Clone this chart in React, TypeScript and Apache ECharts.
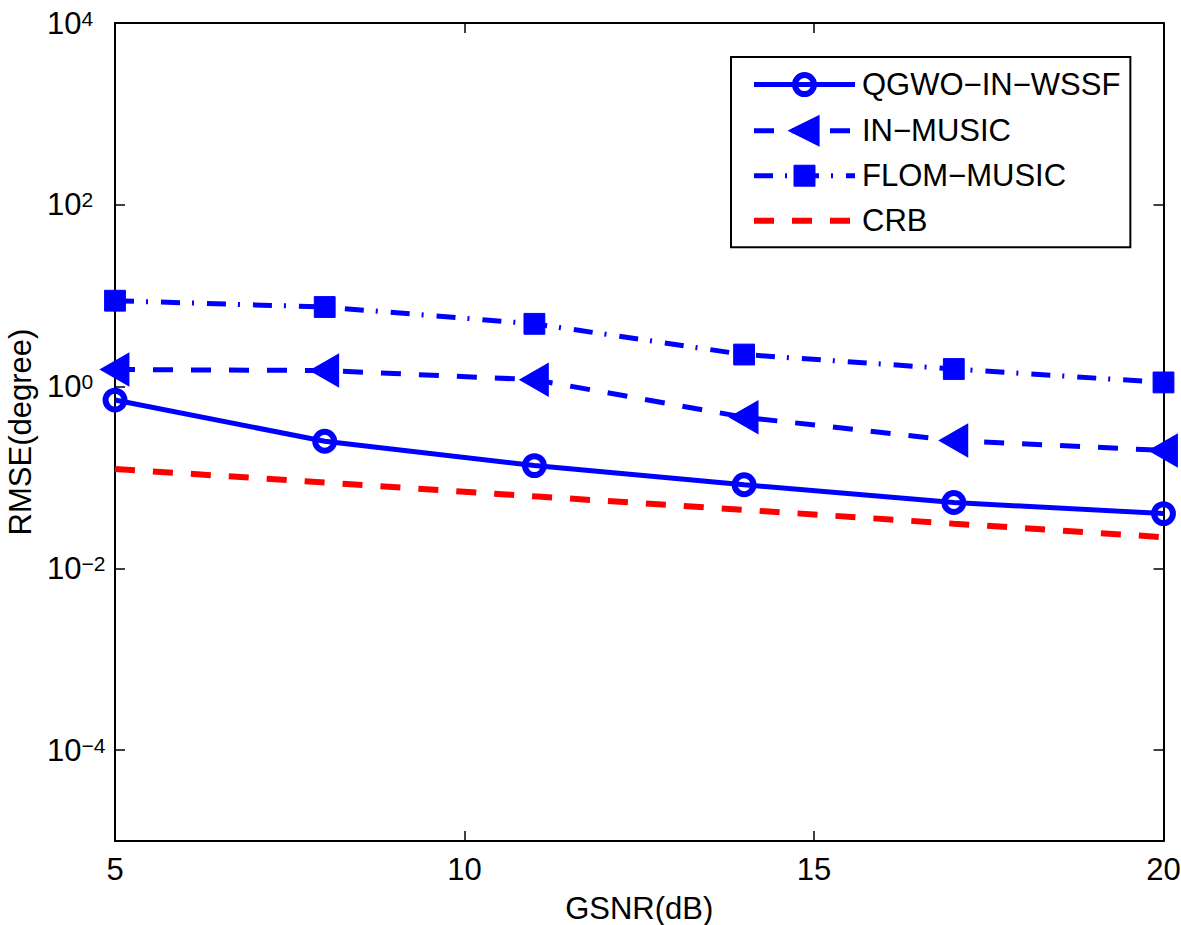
import React, { useEffect, useRef } from 'react';
import * as echarts from 'echarts';

const FONT = "'Liberation Sans', Arial, Helvetica, sans-serif";

// Data
const SNR_DB = [5, 8, 11, 14, 17, 20];
const QGWO_IN_WSSF = [0.71, 0.25, 0.135, 0.083, 0.053, 0.04];
const IN_MUSIC = [1.54, 1.5, 1.19, 0.46, 0.255, 0.198];
const FLOM_MUSIC = [8.8, 7.5, 4.9, 2.25, 1.56, 1.11];
const CRB = [0.124, 0.088, 0.062, 0.044, 0.031, 0.022];

const SERIES_NAMES = ['QGWO\u2212IN\u2212WSSF', 'IN\u2212MUSIC', 'FLOM\u2212MUSIC', 'CRB'];
const X_MIN = 5;
const X_MAX = 20;
const X_INTERVAL = 5;
const Y_MIN_EXP = -5;
const Y_MAX_EXP = 4;
const Y_LABEL_EXPONENTS = [-4, -2, 0, 2, 4];

const BLUE = '#0000ff';
const RED = '#ff0000';
// marker shapes (padded so that legend and plot markers keep MATLAB-like relative sizes)
const CIRCLE = 'path://M-2.15,-2.15M12.15,12.15M10,5A5,5 0 1 1 0,5A5,5 0 1 1 10,5Z';
const TRI_LEFT = 'path://M0,5L10,0L10,10Z';
const SQUARE = 'path://M-1.48,-1.48M11.48,11.48M0,0L10,0L10,10L0,10Z';

const pairs = (ys: number[]) => SNR_DB.map((x, i) => [x, ys[i]]);

const supLabel = (v: number) => {
  if (!Y_LABEL_EXPONENTS.includes(v)) return '';
  const e = v < 0 ? '\u2212' + Math.abs(v) : String(v);
  return `{b|10}{s|${e}}`;
};

const axisLine = { show: true, onZero: false, lineStyle: { color: '#000', width: 2 } };
const axisTick = { show: true, inside: true, length: 10, lineStyle: { color: '#000', width: 1.5 } };

export default function App() {
  const ref = useRef<HTMLDivElement>(null);
  useEffect(() => {
    const chart = echarts.init(ref.current!, null, { renderer: 'svg' });
    const option: any = {
      animation: false,
      backgroundColor: '#fff',
      textStyle: { fontFamily: FONT },
      grid: {
        left: 115, top: 23, width: 1048.5, height: 818,
        containLabel: false, outerBoundsMode: 'none',
      },
      xAxis: [
        {
          type: 'value', position: 'bottom', min: X_MIN, max: X_MAX, interval: X_INTERVAL,
          axisLine, axisTick, splitLine: { show: false },
          axisLabel: { fontSize: 31, color: '#000', fontFamily: FONT, margin: 13 },
          name: 'GSNR(dB)', nameLocation: 'middle', nameGap: 52,
          nameTextStyle: { fontSize: 31, color: '#000', fontFamily: FONT },
        },
        {
          type: 'value', position: 'top', min: X_MIN, max: X_MAX, interval: X_INTERVAL,
          axisLine, axisTick, splitLine: { show: false }, axisLabel: { show: false },
        },
      ],
      yAxis: [
        {
          type: 'log', logBase: 10, min: Math.pow(10, Y_MIN_EXP), max: Math.pow(10, Y_MAX_EXP),
          show: false,
        },
        {
          type: 'value', position: 'left', min: Y_MIN_EXP, max: Y_MAX_EXP, minInterval: 2, maxInterval: 2,
          axisLine, axisTick, splitLine: { show: false },
          axisLabel: {
            align: 'left', margin: 68, color: '#000', fontFamily: FONT,
            formatter: supLabel,
            rich: {
              b: { fontSize: 31, lineHeight: 31, padding: [5, 0, 0, 0], color: '#000', fontFamily: FONT, verticalAlign: 'bottom' },
              s: { fontSize: 21, lineHeight: 16, color: '#000', fontFamily: FONT, verticalAlign: 'top' },
            },
          },
          name: 'RMSE(degree)', nameLocation: 'middle', nameGap: 76,
          nameTextStyle: { fontSize: 31, color: '#000', fontFamily: FONT },
        },
        {
          type: 'value', position: 'right', min: Y_MIN_EXP, max: Y_MAX_EXP, minInterval: 2, maxInterval: 2,
          axisLine, axisTick, splitLine: { show: false }, axisLabel: { show: false },
        },
      ],
      legend: {
        orient: 'vertical', left: 731, top: 57,
        padding: [11, 10, 11, 20],
        itemWidth: 101, itemHeight: 34, itemGap: 14,
        borderColor: '#000', borderWidth: 2, borderRadius: 0, backgroundColor: '#fff',
        selectedMode: false,
        textStyle: { fontSize: 31, lineHeight: 31, color: '#000', fontFamily: FONT, padding: [0, 0, 0, 2] },
        data: [
          { name: SERIES_NAMES[0], itemStyle: { color: 'rgba(0,0,255,0)', borderColor: BLUE, borderWidth: 6 }, lineStyle: { color: BLUE, width: 5, type: 'solid' } },
          { name: SERIES_NAMES[1], itemStyle: { color: BLUE, borderColor: BLUE, borderWidth: 3 }, lineStyle: { color: BLUE, width: 5, type: [20, 18] } },
          { name: SERIES_NAMES[2], itemStyle: { color: BLUE, borderColor: BLUE, borderWidth: 1 }, lineStyle: { color: BLUE, width: 5, type: [19, 12, 2, 13] } },
          { name: SERIES_NAMES[3], itemStyle: { color: 'rgba(0,0,0,0)', borderColor: 'rgba(0,0,0,0)', borderWidth: 0, opacity: 0 }, lineStyle: { color: RED, width: 6, type: [20, 18] } },
        ],
      },
      series: [
        {
          name: SERIES_NAMES[0], type: 'line', xAxisIndex: 0, yAxisIndex: 0, data: pairs(QGWO_IN_WSSF),
          symbol: CIRCLE, symbolSize: 27, clip: false, z: 3,
          itemStyle: { color: 'rgba(0,0,255,0)', borderColor: BLUE, borderWidth: 6 },
          lineStyle: { color: BLUE, width: 5, type: 'solid', cap: 'butt' },
        },
        {
          name: SERIES_NAMES[1], type: 'line', xAxisIndex: 0, yAxisIndex: 0, data: pairs(IN_MUSIC),
          symbol: TRI_LEFT, symbolSize: [27, 31], clip: false, z: 3,
          itemStyle: { color: BLUE, borderColor: BLUE, borderWidth: 2 },
          lineStyle: { color: BLUE, width: 5, type: [20, 18], cap: 'butt' },
        },
        {
          name: SERIES_NAMES[2], type: 'line', xAxisIndex: 0, yAxisIndex: 0, data: pairs(FLOM_MUSIC),
          symbol: SQUARE, symbolSize: 27, clip: false, z: 3,
          itemStyle: { color: BLUE, borderColor: BLUE, borderWidth: 1 },
          lineStyle: { color: BLUE, width: 5, type: [19, 12, 2, 13], cap: 'butt' },
        },
        {
          name: SERIES_NAMES[3], type: 'line', xAxisIndex: 0, yAxisIndex: 0, data: pairs(CRB),
          symbol: 'none', clip: false, z: 3,
          itemStyle: { color: RED },
          lineStyle: { color: RED, width: 6, type: [20, 18], cap: 'butt' },
        },
      ],
    };
    chart.setOption(option);
    return () => chart.dispose();
  }, []);
  return (
    <div
      ref={ref}
      style={{ position: 'fixed', left: 0, top: 0, width: 1181, height: 925, background: '#fff' }}
    />
  );
}
